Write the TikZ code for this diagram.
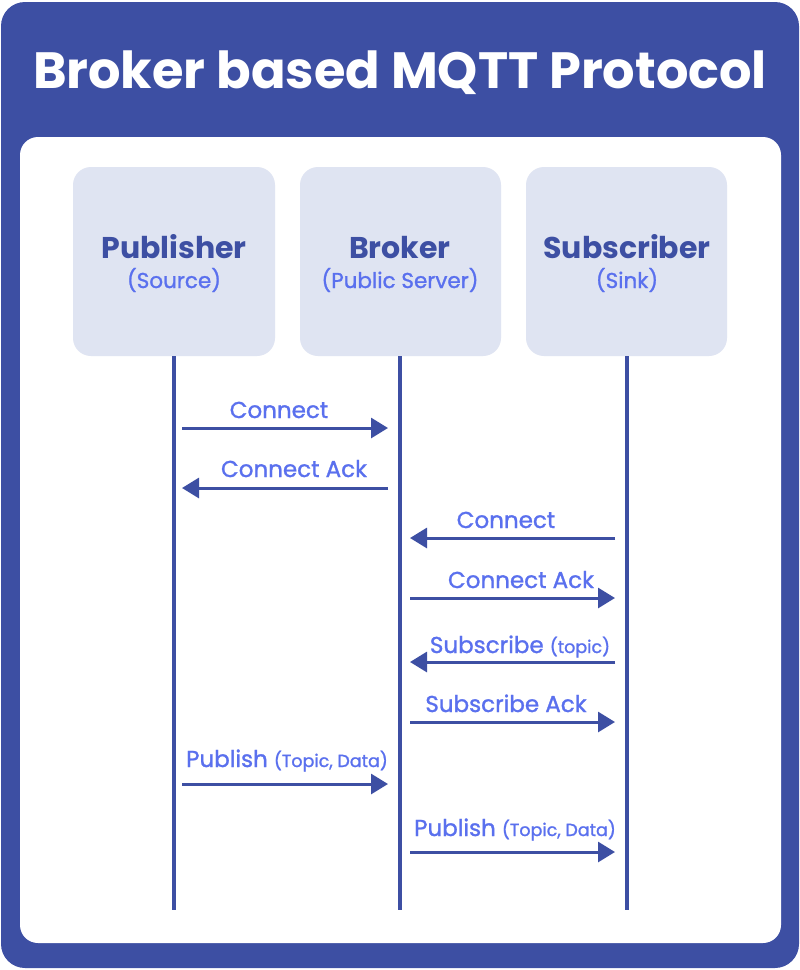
\documentclass[tikz,border=0pt]{standalone}
\usepackage{fontspec}
\setmainfont{Poppins}
\newfontfamily\medfont[FakeBold=1.2]{Poppins}
\usetikzlibrary{arrows.meta}
\definecolor{dblue}{HTML}{3D4FA3}
\definecolor{lblue}{HTML}{5A70EE}
\definecolor{boxfill}{HTML}{DFE4F2}
\tikzset{
  actorbox/.style={fill=boxfill, rounded corners=18pt},
  lifeline/.style={draw=dblue, line width=4pt},
  msg/.style={draw=dblue, line width=3pt, -{Triangle[length=17pt,width=20pt]}},
  msglabel/.style={text=lblue, font=\medfont\fontsize{23}{26}\selectfont, anchor=base, inner sep=0pt},
  actorname/.style={text=dblue, font=\fontsize{30}{34}\selectfont\bfseries, anchor=base, inner sep=0pt},
  actorsub/.style={text=lblue, font=\medfont\fontsize{21.5}{25}\selectfont, anchor=base, inner sep=0pt},
}
\newcommand{\smalltxt}[1]{{\fontsize{17.5}{20}\selectfont #1}}
\begin{document}
\begin{tikzpicture}[x=1pt,y=-1pt]
\useasboundingbox (0,0) rectangle (800,970);
\fill[dblue, rounded corners=24pt] (1,2) rectangle (799,968);
\fill[white, rounded corners=18pt] (20,137) rectangle (781,943);
\node[text=white, font=\fontsize{51}{56}\selectfont\bfseries, anchor=base, inner sep=0pt] (title) at (400,88) {Broker based MQTT Protocol};
% actor boxes
\fill[actorbox] (73,167) rectangle (275,356);
\fill[actorbox] (300,167) rectangle (501,356);
\fill[actorbox] (526,167) rectangle (727,356);
\node[actorname] (pubname) at (174,258) {Publisher};
\node[actorsub] (pubsub) at (174,288) {(Source)};
\node[actorname] (brkname) at (400,258) {Broker};
\node[actorsub] (brksub) at (400,288) {(Public Server)};
\node[actorname] (subname) at (627,258) {Subscriber};
\node[actorsub] (subsub) at (627,288) {(Sink)};
% lifelines
\coordinate (pt) at (174,356); \coordinate (pb) at (174,910);
\coordinate (bt) at (400,356); \coordinate (bb) at (400,910);
\coordinate (st) at (627,356); \coordinate (sb) at (627,910);
\draw[lifeline] (pt) -- (pb);
\draw[lifeline] (bt) -- (bb);
\draw[lifeline] (st) -- (sb);
% message endpoints
\coordinate (a1s) at (182,428); \coordinate (a1e) at (388,428);
\coordinate (a2s) at (388,488); \coordinate (a2e) at (182,488);
\coordinate (a3s) at (615,538); \coordinate (a3e) at (410,538);
\coordinate (a4s) at (410,598); \coordinate (a4e) at (615,598);
\coordinate (a5s) at (615,662); \coordinate (a5e) at (410,662);
\coordinate (a6s) at (410,722); \coordinate (a6e) at (615,722);
\coordinate (a7s) at (182,784); \coordinate (a7e) at (388,784);
\coordinate (a8s) at (410,852); \coordinate (a8e) at (615,852);
\draw[msg] (a1s) -- (a1e);
\draw[msg] (a2s) -- (a2e);
\draw[msg] (a3s) -- (a3e);
\draw[msg] (a4s) -- (a4e);
\draw[msg] (a5s) -- (a5e);
\draw[msg] (a6s) -- (a6e);
\draw[msg] (a7s) -- (a7e);
\draw[msg] (a8s) -- (a8e);
% labels
\node[msglabel] (l1) at (279,418) {Connect};
\node[msglabel] (l2) at (294,477) {Connect Ack};
\node[msglabel] (l3) at (506,528) {Connect};
\node[msglabel] (l4) at (521,588) {Connect Ack};
\node[msglabel] (l5) at (520,653) {Subscribe \smalltxt{(topic)}};
\node[msglabel] (l6) at (506,712) {Subscribe Ack};
\node[msglabel] (l7) at (287,767) {Publish \smalltxt{(Topic, Data)}};
\node[msglabel] (l8) at (515,836) {Publish \smalltxt{(Topic, Data)}};
\end{tikzpicture}
\end{document}
